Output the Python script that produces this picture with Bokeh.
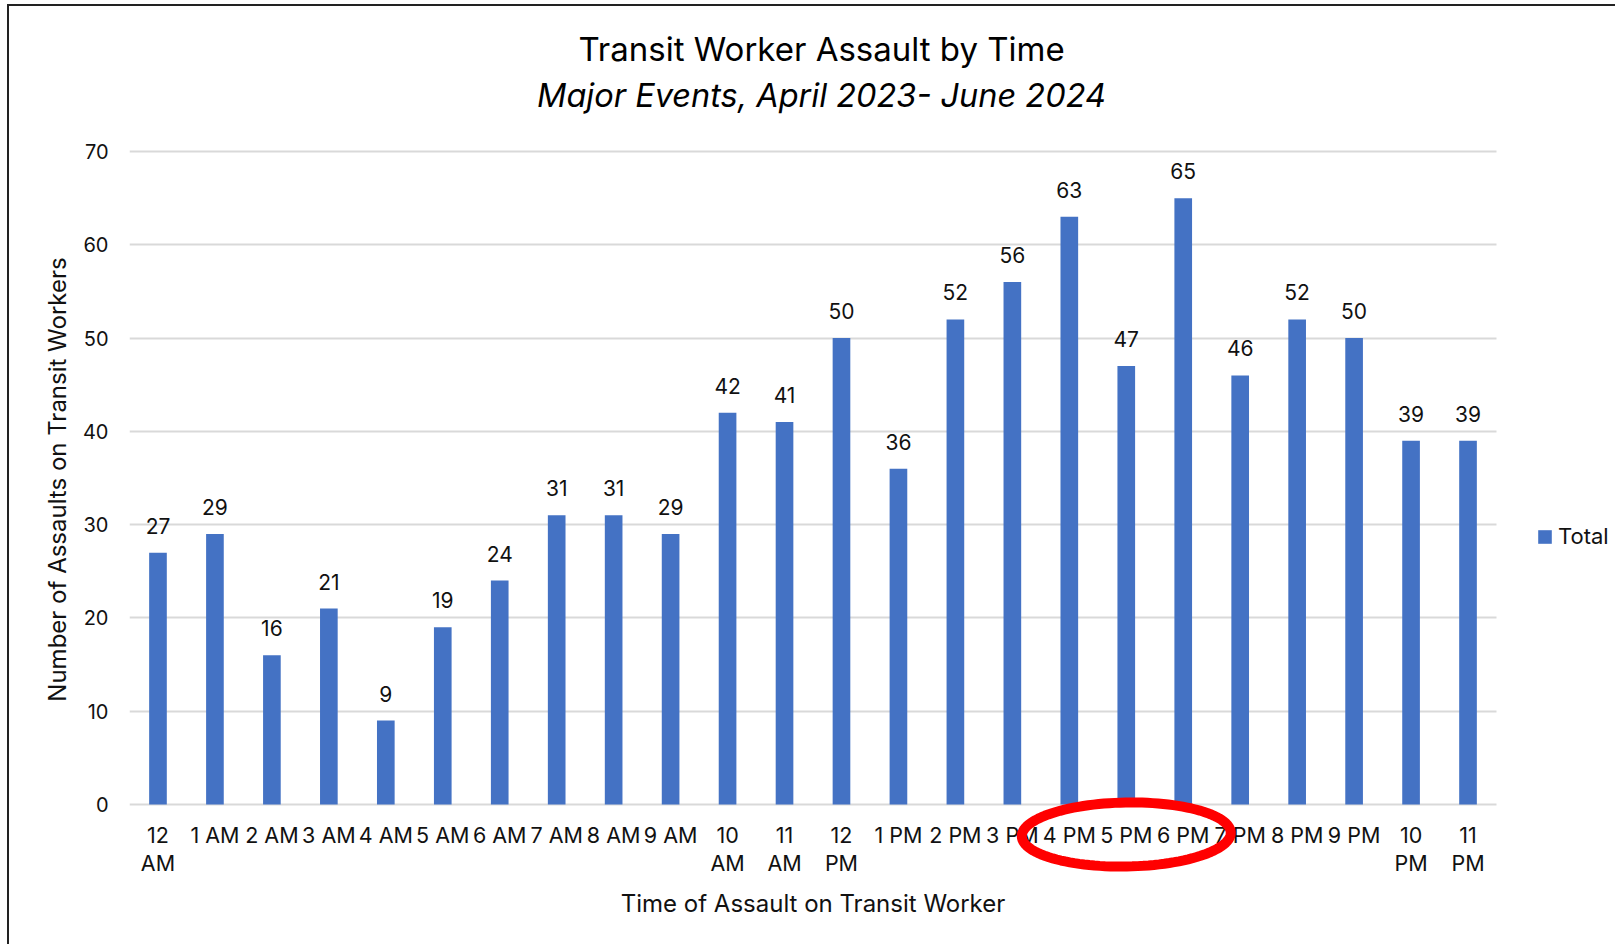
import numpy as np
from bokeh.plotting import figure
from bokeh.models import (ColumnDataSource, LabelSet, Label, Legend, LegendItem,
                          PolyAnnotation, FixedTicker, Range1d, Grid)
from bokeh.embed import file_html
from bokeh.resources import INLINE
from bokeh.core.properties import value

# ---- data ----
hours = ["12\nAM", "1 AM", "2 AM", "3 AM", "4 AM", "5 AM", "6 AM", "7 AM", "8 AM",
         "9 AM", "10\nAM", "11\nAM", "12\nPM", "1 PM", "2 PM", "3 PM", "4 PM", "5 PM",
         "6 PM", "7 PM", "8 PM", "9 PM", "10\nPM", "11\nPM"]
totals = [27, 29, 16, 21, 9, 19, 24, 31, 31, 29, 42, 41, 50, 36, 52, 56, 63, 47,
          65, 46, 52, 50, 39, 39]
y_ticks = [0, 10, 20, 30, 40, 50, 60, 70]
series_name = "Total"
title_text = "Transit Worker Assault by Time"
subtitle_text = "Major Events, April 2023- June 2024"
x_title = "Time of Assault on Transit Worker"
y_title = "Number of Assaults on Transit Workers"
highlight_hour = "5 PM"

FONT = "Inter"
BAR = "#4472C4"
GRID = "#d9d9d9"
TXT = "#111111"

n = len(hours)
xpos = list(range(n))
source = ColumnDataSource(dict(x=xpos, hour=hours, total=totals,
                               label=[str(v) for v in totals]))

# layout geometry (canvas pixels)
FIG_W, FIG_H = 1608, 940
LEFT = 120                  # frame left edge
FRAME_TOP = 6               # frame top edge
ZERO_Y = 798                # canvas y of value 0
TOP_Y = 145                 # canvas y of value 70
PX_UNIT = (ZERO_Y - TOP_Y) / 70
PX_CAT = 1367 / n
Y_TOP = 70 + (TOP_Y - FRAME_TOP) / PX_UNIT
Y_BOT = -(FIG_H - ZERO_Y) / PX_UNIT
X_END = -0.5 + (FIG_W - LEFT) / PX_CAT

def ydata(canvas_y):
    return 70 + (TOP_Y - canvas_y) / PX_UNIT

p = figure(width=FIG_W, height=FIG_H, output_backend="svg", toolbar_location=None,
           x_range=Range1d(-0.5, X_END), y_range=Range1d(Y_BOT, Y_TOP),
           min_border_left=LEFT, min_border_right=0,
           min_border_top=FRAME_TOP, min_border_bottom=0,
           styles={"margin-left": "7px", "margin-top": "4px",
                   "border-top": "2px solid #222222",
                   "border-left": "2px solid #222222"})
p.outline_line_color = None
p.background_fill_color = "white"
p.border_fill_color = "white"

r = p.vbar(x="x", top="total", width=0.31, source=source,
           fill_color=BAR, line_color=None)

# grid
p.xgrid.visible = False
p.ygrid.grid_line_color = GRID
p.ygrid.grid_line_width = 2
if "cross_bounds" in Grid.properties():
    p.ygrid.cross_bounds = (-0.5, n - 0.5)
p.yaxis.ticker = FixedTicker(ticks=y_ticks)
p.xaxis.ticker = FixedTicker(ticks=xpos)
p.xaxis.major_label_overrides = {i: h for i, h in zip(xpos, hours)}
p.xaxis.fixed_location = 0

# axes
for ax in (p.xaxis, p.yaxis):
    ax.axis_line_color = None
    ax.major_tick_line_color = None
    ax.minor_tick_line_color = None
    ax.major_tick_out = 0
    ax.major_tick_in = 0
    ax.major_label_text_font = FONT
    ax.major_label_text_color = TXT
    ax.axis_label_text_font = FONT
    ax.axis_label_text_font_size = "24px"
    ax.axis_label_text_font_style = "normal"
    ax.axis_label_text_color = TXT

p.xaxis.major_label_text_font_size = "21.5px"
p.xaxis.major_label_text_line_height = 1.1
p.yaxis.major_label_text_font_size = "20px"
p.xaxis.major_label_standoff = 17
p.yaxis.major_label_standoff = 21
p.yaxis.axis_label = y_title
p.yaxis.axis_label_standoff = 8

# x axis title, centred under the category area
p.add_layout(Label(x=(n - 1) / 2, y=ydata(897), text=x_title,
                   text_align="center", text_baseline="middle", text_font=FONT,
                   text_font_size="24px", text_color=TXT))

# data labels
labels = LabelSet(x="x", y="total", text="label", source=source,
                  y_offset=19, text_align="center", text_baseline="bottom",
                  text_font=value(FONT), text_font_size=value("21px"),
                  text_color=TXT)
p.add_layout(labels)

# titles
title_x = (n - 1) / 2 + 0.15
p.add_layout(Label(x=title_x, y=ydata(42.5), text=title_text,
                   text_align="center", text_baseline="middle", text_font=FONT,
                   text_font_size="33px", text_color="#000000"))
p.add_layout(Label(x=title_x, y=ydata(89), text=subtitle_text,
                   text_align="center", text_baseline="middle", text_font=FONT,
                   text_font_size="32.5px", text_font_style="italic",
                   text_color="#000000"))

# legend
legend = Legend(items=[LegendItem(label=series_name, renderers=[r])],
                location=(1407, FIG_H - 530 - 13),
                glyph_width=17, glyph_height=17,
                label_text_font=FONT, label_text_font_size="22px",
                label_text_color=TXT, padding=0, margin=0, spacing=0,
                label_standoff=5, border_line_color=None,
                background_fill_alpha=0)
p.add_layout(legend)

# red highlight ellipse around the 4 PM - 6 PM labels
cx = hours.index(highlight_hour)
cy = ydata(828)
a, b, phi = 104.5, 32.0, np.deg2rad(1.0)
t = np.linspace(0, 2 * np.pi, 121)
dx = a * np.cos(t) * np.cos(phi) - b * np.sin(t) * np.sin(phi)
dy = a * np.cos(t) * np.sin(phi) + b * np.sin(t) * np.cos(phi)
ell = PolyAnnotation(xs=list(cx + dx / PX_CAT), ys=list(cy + dy / PX_UNIT),
                     xs_units="data", ys_units="data",
                     fill_color=None, fill_alpha=0,
                     line_color="#ff0000", line_alpha=1.0, line_width=10)
p.add_layout(ell)

open("out.html", "w").write(file_html(p, INLINE))
